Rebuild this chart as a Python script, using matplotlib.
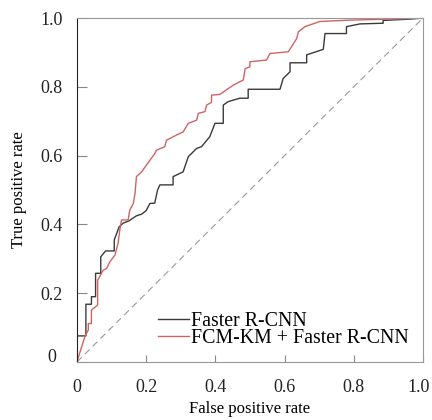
import matplotlib
matplotlib.use('Agg')
import matplotlib.pyplot as plt
import matplotlib.transforms as mtransforms

# ROC curve vertices
fpr_base = [0, 0, 0.026, 0.026, 0.042, 0.042, 0.054, 0.054, 0.069, 0.069, 0.083, 0.108,
            0.108, 0.115, 0.122, 0.134, 0.15, 0.163, 0.172, 0.187, 0.2, 0.211, 0.225, 0.233,
            0.24, 0.278, 0.278, 0.307, 0.322, 0.346, 0.36, 0.384, 0.399, 0.423, 0.423, 0.437,
            0.471, 0.495, 0.495, 0.587, 0.596, 0.616, 0.616, 0.664, 0.664, 0.712, 0.717,
            0.779, 0.779, 0.818, 0.885, 0.885, 0.962, 1.0]
tpr_base = [0, 0.076, 0.076, 0.168, 0.168, 0.19, 0.19, 0.258, 0.258, 0.306, 0.323, 0.323,
            0.355, 0.374, 0.393, 0.404, 0.41, 0.419, 0.425, 0.43, 0.44, 0.461, 0.462, 0.5,
            0.515, 0.515, 0.539, 0.553, 0.597, 0.621, 0.626, 0.655, 0.694, 0.694, 0.747, 0.757,
            0.767, 0.767, 0.793, 0.793, 0.824, 0.844, 0.87, 0.87, 0.893, 0.909, 0.955,
            0.955, 0.975, 0.983, 0.985, 0.993, 0.997, 1.0]

fpr_fcm = [0, 0.023, 0.033, 0.033, 0.042, 0.042, 0.06, 0.06, 0.076, 0.086, 0.095, 0.11,
           0.119, 0.124, 0.129, 0.148, 0.153, 0.163, 0.168, 0.172, 0.187, 0.225, 0.23, 0.254,
           0.259, 0.288, 0.307, 0.322, 0.346, 0.351, 0.37, 0.375, 0.389, 0.389, 0.413, 0.452,
           0.481, 0.486, 0.5, 0.5, 0.548, 0.558, 0.611, 0.635, 0.64, 0.659, 0.702, 0.789,
           0.905, 1.0]
tpr_fcm = [0, 0.074, 0.093, 0.112, 0.112, 0.151, 0.166, 0.238, 0.267, 0.272, 0.291, 0.311,
           0.345, 0.384, 0.413, 0.413, 0.442, 0.461, 0.49, 0.539, 0.553, 0.606, 0.616, 0.626,
           0.645, 0.66, 0.669, 0.694, 0.703, 0.723, 0.728, 0.747, 0.755, 0.776, 0.778, 0.805,
           0.82, 0.853, 0.858, 0.873, 0.878, 0.897, 0.902, 0.94, 0.96, 0.975, 0.99, 0.994,
           0.997, 1.0]

labels = ['Faster R-CNN', 'FCM-KM + Faster R-CNN']
ticks = [0, 0.2, 0.4, 0.6, 0.8, 1.0]
tick_labels = ['0', '0.2', '0.4', '0.6', '0.8', '1.0']

plt.rcParams['font.family'] = ['Liberation Serif', 'DejaVu Serif']

fig = plt.figure(figsize=(4.32, 4.2), dpi=100)
ax = fig.add_axes([0.178, 0.138, 0.801, 0.819])

ax.plot([0, 1], [0, 1], ls=(0, (6, 4)), color='#999999', lw=0.8)
ax.plot(fpr_base, tpr_base, color='#3a3a3a', lw=1.0, label=labels[0])
ax.plot(fpr_fcm, tpr_fcm, color='#cf6464', lw=1.0, label=labels[1])

ax.set_xlim(0, 1)
ax.set_ylim(0, 1)
ax.set_xticks(ticks)
ax.set_xticklabels(tick_labels)
ax.set_yticks(ticks)
ax.set_yticklabels(tick_labels, ha='center')
ax.tick_params(direction='in', width=0.8, colors='#888888',
               labelcolor='#222222', labelsize=13)
ax.tick_params(axis='x', length=5, pad=12)
ax.tick_params(axis='y', length=7, pad=18)
for s in ['top', 'right', 'bottom']:
    ax.spines[s].set_color('#999999')
ax.spines['left'].set_color('#222222')

# small nudges so labels sit as in the reference
lbl0 = ax.get_yticklabels()[0]
lbl0.set_transform(lbl0.get_transform() +
                   mtransforms.ScaledTranslation(0, 5 / 72, fig.dpi_scale_trans))
lbl_last = ax.get_xticklabels()[-1]
lbl_last.set_transform(lbl_last.get_transform() +
                       mtransforms.ScaledTranslation(-3 / 72, 0, fig.dpi_scale_trans))

ax.set_xlabel('False positive rate', fontsize=12, labelpad=4)
ax.set_ylabel('True positive rate', fontsize=12, labelpad=10)

ax.legend(loc='lower right', frameon=False, fontsize=14.3, handlelength=1.6,
          handletextpad=0.1, labelspacing=-0.08, borderaxespad=0.3)

fig.savefig('out.png', dpi=100)
